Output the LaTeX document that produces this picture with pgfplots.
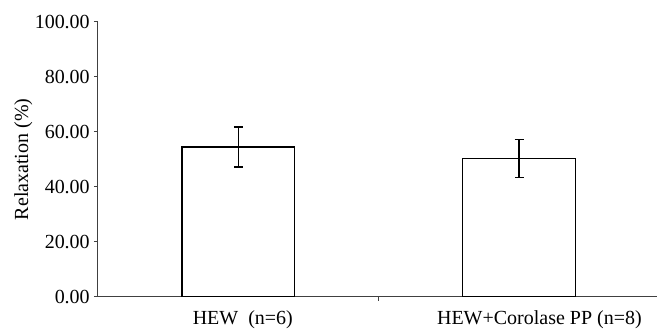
\documentclass[border=0pt]{standalone}
\usepackage{fontspec}
\setmainfont{Liberation Serif}
\usepackage{pgfplots}
\pgfplotsset{compat=1.18}
\begin{document}
\fontsize{20bp}{23bp}\selectfont
\begin{tikzpicture}
\begin{axis}[
  at={(0,0)}, anchor=south west,
  scale only axis,
  width=559bp, height=275bp,
  xmin=-0.5, xmax=1.489,
  ymin=0, ymax=100,
  axis x line*=bottom, axis y line*=left,
  axis line style={line width=1bp, black!75},
  ytick={0,20,...,100},
  /pgf/number format/fixed,
  /pgf/number format/fixed zerofill,
  /pgf/number format/precision=2,
  /pgf/number format/assume math mode=true,
  yticklabel style={inner sep=0pt, xshift=-4bp},
  major tick length=4bp,
  tick align=outside,
  tick style={line width=1bp, black!75},
  xtick={0.5},
  xticklabels={},
  extra x ticks={0.016,1.072},
  extra x tick labels={HEW\ \ (n=6), HEW+Corolase PP (n=8)},
  extra x tick style={major tick length=0pt, xticklabel style={inner sep=0pt, yshift=-14bp}},
  ylabel={Relaxation (\%)},
  ylabel style={at={(axis description cs:-0.125,0.5)}, anchor=base, rotate=0},
  clip=false,
]
\addplot[ybar, bar width=113bp, draw=black, line width=1.3bp, fill=white,
  error bars/.cd, y dir=both, y explicit,
  error bar style={line width=1.4bp, black},
  error mark options={rotate=90, mark size=4.5bp, line width=1.4bp}]
  coordinates {(0,54.5) +- (0,7.3) (1,50.3) +- (0,7.0)};
\end{axis}
\useasboundingbox (-98bp,-32bp) rectangle (559bp,297bp);
\end{tikzpicture}
\end{document}
